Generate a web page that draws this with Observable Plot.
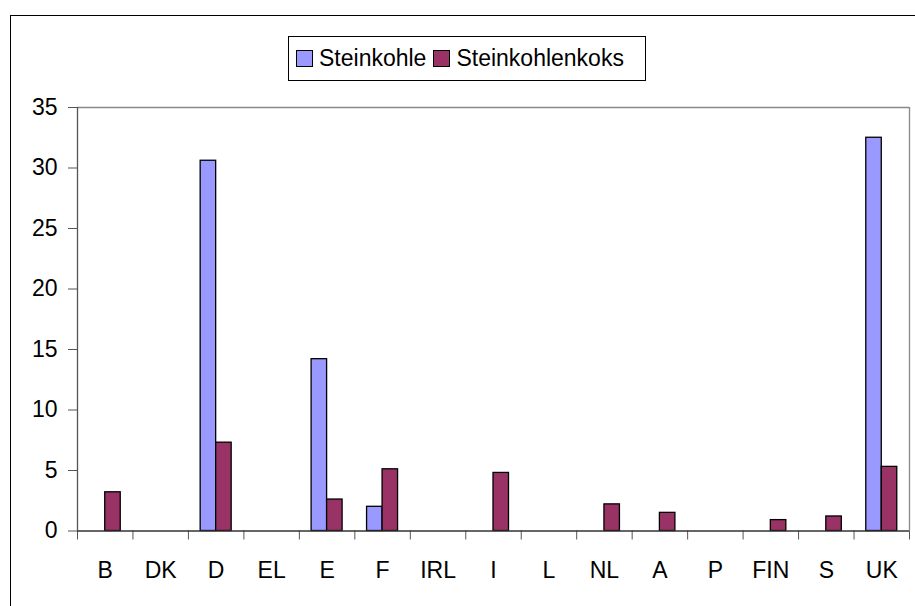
<!DOCTYPE html>
<html>
<head>
<meta charset="utf-8">
<script src="https://cdn.jsdelivr.net/npm/d3@7"></script>
<script src="https://cdn.jsdelivr.net/npm/@observablehq/plot@0.6"></script>
<style>
  html, body { margin: 0; padding: 0; background: #fff; overflow: hidden; }
  #wrap { position: relative; width: 915px; height: 606px; font-family: "Liberation Sans", Arial, sans-serif; }
  #outer { position: absolute; left: 10px; top: 15px; width: 1000px; height: 1000px; border-left: 1.5px solid #000; border-top: 1.5px solid #000; }
  #legend { position: absolute; left: 288px; top: 36px; width: 358px; height: 45px; border: 1px solid #000; box-sizing: border-box; background: #fff;
            display: flex; align-items: center; font-size: 23px; color: #000; z-index: 2; }
  .sw { display: inline-block; width: 15px; height: 15px; border: 1.3px solid #000; margin-left: 7px; margin-right: 6px; }
  #chart { position: absolute; left: 0; top: 0; }
</style>
</head>
<body>
<div id="wrap">
  <div id="outer"></div>
  <div id="chart"></div>
  <div id="legend"></div>
</div>
<script>
const countries = ["B","DK","D","EL","E","F","IRL","I","L","NL","A","P","FIN","S","UK"];
const steinkohle = [0, 0, 30.6, 0, 14.2, 2.0, 0, 0, 0, 0, 0, 0, 0, 0, 32.5];
const steinkohlenkoks = [3.2, 0, 7.3, 0, 2.6, 5.1, 0, 4.8, 0, 2.2, 1.5, 0, 0.9, 1.2, 5.3];
const seriesNames = ["Steinkohle", "Steinkohlenkoks"];
const seriesColors = ["#9999FF", "#993366"];
const yTicks = [0, 5, 10, 15, 20, 25, 30, 35];

const rows = [];
countries.forEach((c, i) => {
  rows.push({country: c, i, series: seriesNames[0], value: steinkohle[i]});
  rows.push({country: c, i, series: seriesNames[1], value: steinkohlenkoks[i]});
});

const W = 915, H = 606;
const mL = 77, mR = 6, mT = 107, mB = 75.5;
const band = (W - mL - mR) / countries.length;
const barW = 15.5;
const gap = band / 2 - barW;

const barOpts = (s, insL, insR) => Plot.rectY(rows.filter(d => d.series === s && d.value > 0), {
  x1: "i", x2: d => d.i + 1, y: "value",
  fill: seriesColors[seriesNames.indexOf(s)], stroke: "#000", strokeWidth: 1.3,
  insetLeft: insL, insetRight: insR
});

const plot = Plot.plot({
  width: W, height: H,
  marginLeft: mL, marginRight: mR, marginTop: mT, marginBottom: mB,
  style: {fontFamily: "Liberation Sans, Arial, sans-serif", background: "transparent", color: "#000"},
  x: {domain: [0, countries.length], axis: null, label: null},
  y: {domain: [0, 35], axis: null, label: null},
  marks: [
    Plot.ruleY([35], {stroke: "#888", strokeWidth: 1.3}),
    Plot.ruleX([countries.length], {stroke: "#888", strokeWidth: 1.3}),
    barOpts(seriesNames[0], gap, band / 2),
    barOpts(seriesNames[1], band / 2, gap),
    Plot.axisY({ticks: yTicks, tickSize: 9, tickPadding: 11, fontSize: 23, stroke: "#555", fill: "#000", label: null, tickFormat: d => String(d)}),
    Plot.axisX({ticks: d3.range(countries.length + 1), tickSize: 9, tickFormat: () => "", stroke: "#555", label: null}),
    Plot.axisX({ticks: countries.map((c, i) => i + 0.5), tickSize: 0, tickPadding: 31, fontSize: 23, fill: "#000", label: null,
                tickFormat: d => countries[Math.floor(d)]}),
    Plot.ruleX([0], {stroke: "#555", strokeWidth: 1.3}),
    Plot.ruleY([0], {stroke: "#333", strokeWidth: 1.3})
  ]
});
document.getElementById("chart").appendChild(plot);

const legend = document.getElementById("legend");
seriesNames.forEach((s, k) => {
  const sw = document.createElement("span");
  sw.className = "sw";
  sw.style.background = seriesColors[k];
  legend.appendChild(sw);
  const t = document.createElement("span");
  t.textContent = s;
  legend.appendChild(t);
});
</script>
</body>
</html>
